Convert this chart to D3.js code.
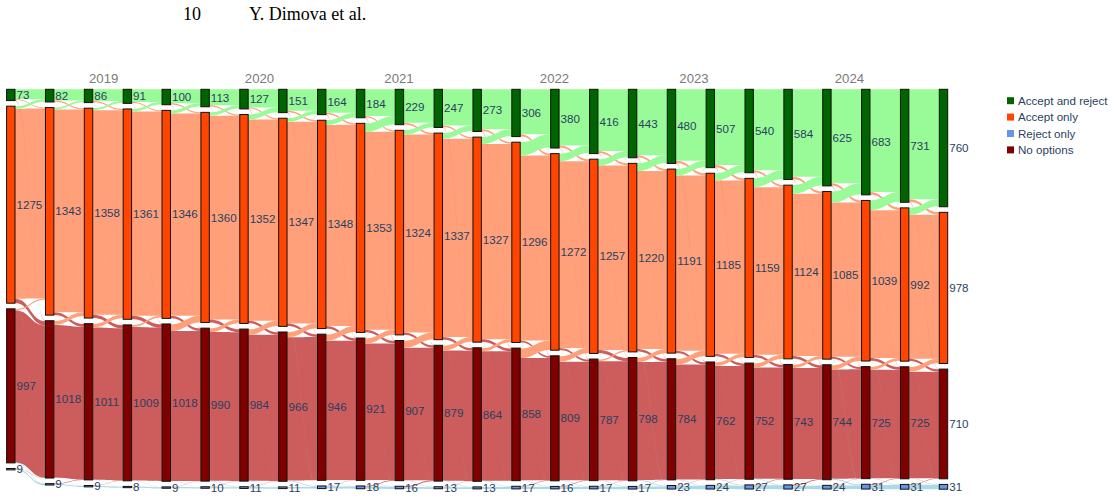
<!DOCTYPE html>
<html>
<head>
<meta charset="utf-8">
<script src="https://cdn.jsdelivr.net/npm/d3@7"></script>
<style>
  body { margin: 0; background: #fff; }
  svg { display: block; }
  .node-label { font-family: "Liberation Sans", Arial, sans-serif; font-size: 11.6px; fill: #2a3f5f; }
  .year { font-family: "Liberation Sans", Arial, sans-serif; font-size: 13.2px; fill: #7a7a7a; }
  .legend text { font-family: "Liberation Sans", Arial, sans-serif; font-size: 11.6px; fill: #2a3f5f; }
  .header { font-family: "Liberation Serif", "Times New Roman", serif; font-size: 18px; fill: #000; }
</style>
</head>
<body>
<svg id="chart" width="1115" height="499"></svg>
<script>
const WIDTH = 1115;
const HEIGHT = 499;

// categories, in legend order
const categories = ["Accept and reject", "Accept only", "Reject only", "No options"];
// vertical order of the nodes in each column
const stackOrder = ["Accept and reject", "Accept only", "No options", "Reject only"];

const years = ["2019", "2020", "2021", "2022", "2023", "2024"];

// node values, one per time step
const acceptReject = [73, 82, 86, 91, 100, 113, 127, 151, 164, 184, 229, 247, 273, 306, 380, 416, 443, 480, 507, 540, 584, 625, 683, 731, 760];
const acceptOnly = [1275, 1343, 1358, 1361, 1346, 1360, 1352, 1347, 1348, 1353, 1324, 1337, 1327, 1296, 1272, 1257, 1220, 1191, 1185, 1159, 1124, 1085, 1039, 992, 978];
const noOptions = [997, 1018, 1011, 1009, 1018, 990, 984, 966, 946, 921, 907, 879, 864, 858, 809, 787, 798, 784, 762, 752, 743, 744, 725, 725, 710];
const rejectOnly = [9, 9, 9, 8, 9, 10, 11, 11, 17, 18, 16, 13, 13, 17, 16, 17, 17, 23, 24, 27, 27, 24, 31, 31, 31];

// estimated transitions between consecutive steps (step i -> i+1)
const arToAo = [6, 8, 8, 7, 7, 8, 8, 10, 9, 9, 10, 10, 11, 12, 14, 14, 13, 15, 14, 13, 15, 14, 15, 16];
const arToNo = [3, 2, 2, 2, 2, 2, 2, 2, 3, 3, 2, 3, 3, 3, 3, 3, 3, 3, 3, 3, 3, 3, 3, 3];
const aoToAr = [16, 12, 13, 16, 20, 22, 32, 23, 30, 55, 28, 36, 44, 86, 50, 41, 50, 42, 47, 57, 56, 72, 63, 45];
const aoToNo = [28, 18, 20, 22, 16, 18, 16, 16, 15, 16, 14, 16, 18, 12, 14, 22, 16, 14, 16, 16, 18, 14, 18, 14];
const aoToRo = [1, 1, 1, 1, 1, 1, 1, 2, 1, 1, 1, 1, 1, 1, 1, 1, 2, 1, 1, 1, 1, 2, 1, 1];
const noToAr = [2, 2, 2, 2, 2, 2, 2, 2, 2, 2, 2, 3, 3, 3, 3, 3, 3, 3, 3, 3, 3, 3, 3, 3];
const noToAo = [8, 25, 23, 12, 43, 23, 34, 32, 40, 33, 45, 31, 20, 62, 35, 11, 26, 35, 23, 25, 20, 28, 18, 29];
const noToRo = [2, 2, 1, 2, 2, 2, 2, 5, 3, 2, 2, 2, 4, 2, 3, 2, 5, 3, 4, 3, 2, 6, 3, 3];
const roToNo = [2, 2, 2, 1, 1, 1, 2, 1, 2, 4, 5, 2, 0, 3, 2, 2, 1, 2, 1, 3, 5, 1, 3, 3];

const nodeColor = {
  "Accept and reject": "#006400",
  "Accept only": "#ff4500",
  "Reject only": "#6495ed",
  "No options": "#800000"
};
const linkColor = {
  "Accept and reject": "#98fb98",
  "Accept only": "#ffa07a",
  "Reject only": "#add8e6",
  "No options": "#cd5c5c"
};

const valuesOf = {
  "Accept and reject": acceptReject,
  "Accept only": acceptOnly,
  "No options": noOptions,
  "Reject only": rejectOnly
};

const STEPS = acceptReject.length;
const TOP = 89.3;
const BOTTOM = 489.2;
const PAD = 5.6;
const NODE_W = 8.4;

const svg = d3.select("#chart");

// header of the paper page
svg.append("text").attr("class", "header").attr("x", 183).attr("y", 19.5).text("10");
svg.append("text").attr("class", "header").attr("x", 249).attr("y", 19.5).text("Y. Dimova et al.");

const x = d3.scaleLinear().domain([0, STEPS - 1]).range([10.8, 943.5]);

const totals = d3.range(STEPS).map(i => d3.sum(stackOrder, c => valuesOf[c][i]));
const h = d3.scaleLinear()
  .domain([0, d3.max(totals)])
  .range([0, BOTTOM - TOP - PAD * (stackOrder.length - 1)]);

// nodes
const nodes = [];
const nodeAt = {};
for (let i = 0; i < STEPS; i++) {
  let y = TOP;
  stackOrder.forEach((c, k) => {
    const v = valuesOf[c][i];
    const n = { step: i, cat: c, order: k, value: v, y0: y, y1: y + h(v), x0: x(i) - NODE_W / 2, x1: x(i) + NODE_W / 2 };
    n.outY = n.y0;
    n.inY = n.y0;
    nodes.push(n);
    nodeAt[i + "|" + c] = n;
    y = n.y1 + PAD;
  });
}

// links
const AR = "Accept and reject", AO = "Accept only", NO = "No options", RO = "Reject only";
const crosses = [
  [AR, AO, arToAo], [AR, NO, arToNo],
  [AO, AR, aoToAr], [AO, NO, aoToNo], [AO, RO, aoToRo],
  [NO, AR, noToAr], [NO, AO, noToAo], [NO, RO, noToRo],
  [RO, NO, roToNo]
];
const links = [];
for (let i = 0; i < STEPS - 1; i++) {
  stackOrder.forEach(c => {
    const out = d3.sum(crosses.filter(f => f[0] === c), f => f[2][i]);
    links.push({ step: i, source: nodeAt[i + "|" + c], target: nodeAt[(i + 1) + "|" + c], value: valuesOf[c][i] - out, stay: true });
  });
  crosses.forEach(([s, t, arr]) => {
    if (arr[i] > 0) links.push({ step: i, source: nodeAt[i + "|" + s], target: nodeAt[(i + 1) + "|" + t], value: arr[i], stay: false });
  });
}

// stack link ends inside nodes: outgoing by target order, incoming by source order
d3.groups(links, l => l.source).forEach(([n, ls]) => {
  ls.sort((a, b) => a.target.order - b.target.order).forEach(l => {
    l.sy = n.outY; n.outY += h(l.value);
  });
});
d3.groups(links, l => l.target).forEach(([n, ls]) => {
  ls.sort((a, b) => a.source.order - b.source.order).forEach(l => {
    l.ty = n.inY; n.inY += h(l.value);
  });
});

function ribbon(l) {
  const x0 = l.source.x1, x1 = l.target.x0, xm = (x0 + x1) / 2, w = h(l.value);
  return "M" + x0 + "," + l.sy +
    "C" + xm + "," + l.sy + " " + xm + "," + l.ty + " " + x1 + "," + l.ty +
    "L" + x1 + "," + (l.ty + w) +
    "C" + xm + "," + (l.ty + w) + " " + xm + "," + (l.sy + w) + " " + x0 + "," + (l.sy + w) + "Z";
}

svg.append("g")
  .selectAll("path")
  .data(links.filter(l => l.stay).concat(links.filter(l => !l.stay)))
  .join("path")
  .attr("d", ribbon)
  .attr("fill", l => linkColor[l.target.cat]);

svg.append("g")
  .selectAll("rect")
  .data(nodes)
  .join("rect")
  .attr("x", d => d.x0)
  .attr("y", d => d.y0)
  .attr("width", NODE_W)
  .attr("height", d => Math.max(1, d.y1 - d.y0))
  .attr("fill", d => nodeColor[d.cat])
  .attr("stroke", "#111")
  .attr("stroke-width", 1);

svg.append("g")
  .selectAll("text")
  .data(nodes)
  .join("text")
  .attr("class", "node-label")
  .attr("x", d => d.x1 + 1.5)
  .attr("y", d => (d.y0 + d.y1) / 2)
  .attr("dy", "0.35em")
  .text(d => d.value);

// year annotations, placed in step units
const yearPos = [2.39, 6.40, 9.99, 13.99, 17.58, 21.58];
svg.append("g")
  .selectAll("text")
  .data(years)
  .join("text")
  .attr("class", "year")
  .attr("text-anchor", "middle")
  .attr("x", (d, i) => x(yearPos[i]))
  .attr("y", 83.3)
  .text(d => d);

// legend
const legend = svg.append("g")
  .attr("class", "legend")
  .attr("transform", "translate(1007,100.7)");
const item = legend.selectAll("g")
  .data(categories)
  .join("g")
  .attr("transform", (d, i) => "translate(0," + i * 16.4 + ")");
item.append("rect")
  .attr("x", 0).attr("y", -3.5)
  .attr("width", 7).attr("height", 7)
  .attr("fill", d => nodeColor[d]);
item.append("text")
  .attr("x", 11)
  .attr("dy", "0.35em")
  .text(d => d);
</script>
</body>
</html>
